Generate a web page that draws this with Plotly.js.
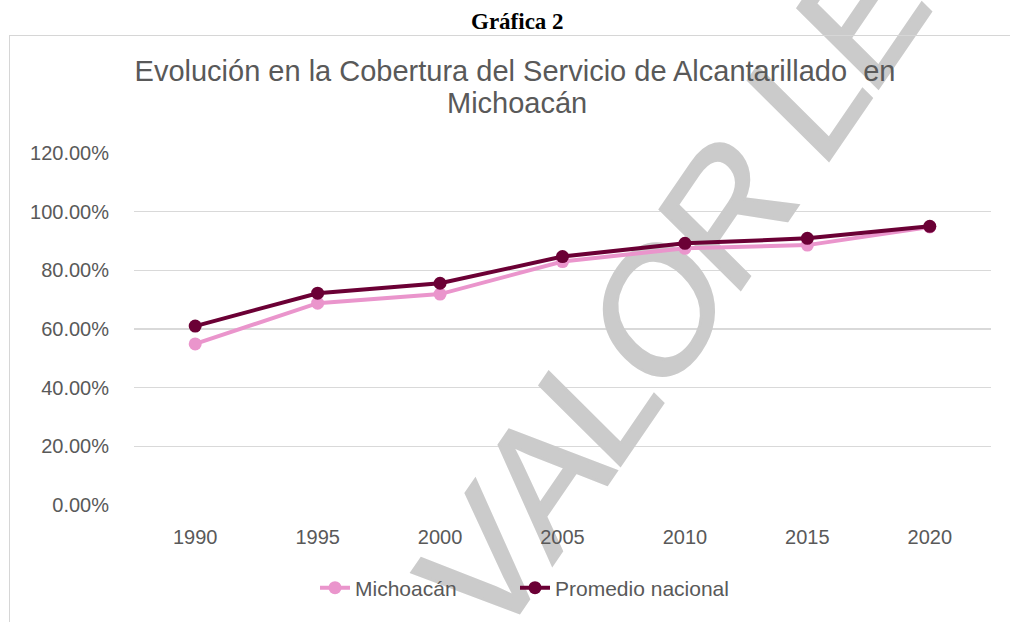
<!DOCTYPE html>
<html><head><meta charset="utf-8">
<script src="https://cdn.plot.ly/plotly-3.0.1.min.js"></script>
<style>
html,body{margin:0;padding:0;background:#fff;}
#wrap{position:relative;width:1010px;height:622px;overflow:hidden;background:#fff;}
#frame{position:absolute;left:9px;top:35px;width:1100px;height:700px;border-left:1.5px solid #d6d6d6;border-top:1.5px solid #d6d6d6;}
#grid,#chart,#wm{position:absolute;left:0;top:0;width:1010px;height:622px;}
</style></head><body>
<div id="wrap">
<div id="grid"></div>
<svg id="wm" width="1010" height="622"><g transform="translate(492,653) scale(0.83,1) rotate(-50.5)"><text x="0" y="0" font-family="Liberation Sans, Arial, sans-serif" font-size="183" letter-spacing="-8" style="font-kerning:none" fill="#cbcbcb" stroke="#cbcbcb" stroke-width="3">VALOR LEGAL</text></g></svg>
<div id="frame"></div>
<div id="chart"></div>
</div>
<script>
const years = ['1990','1995','2000','2005','2010','2015','2020'];
const michoacan = [0.549, 0.688, 0.719, 0.830, 0.875, 0.886, 0.948];
const promedio  = [0.610, 0.722, 0.756, 0.847, 0.892, 0.909, 0.950];
const seriesNames = ['Michoacán', 'Promedio nacional'];
const titleLine1 = 'Evolución en la Cobertura del Servicio de Alcantarillado  en';
const titleLine2 = 'Michoacán';
const header = 'Gráfica 2';

const FONT = 'Liberation Sans, Arial, sans-serif';
const GREY = '#595959';
const margin = {l:134, r:19, t:153, b:117, pad:0};

// background layer: gridlines only
Plotly.newPlot('grid', [], {
  width:1010, height:622, margin: margin,
  paper_bgcolor:'rgba(0,0,0,0)', plot_bgcolor:'rgba(0,0,0,0)',
  showlegend:false,
  xaxis:{type:'category', categoryarray: years, range:[-0.5, 6.5], visible:false},
  yaxis:{range:[-0.0005, 1.2005], tick0:0, dtick:0.2, showgrid:true, gridcolor:'#d9d9d9', gridwidth:1.3,
         zeroline:false, showline:false, ticks:'', showticklabels:false}
}, {staticPlot:true, displayModeBar:false});

// foreground layer: data, axes labels, titles, legends
const traces = [
  {x: years, y: michoacan, name: seriesNames[0], type:'scatter', mode:'lines+markers', legend:'legend',
   line:{color:'#EA95CC', width:4}, marker:{color:'#EA95CC', size:13}},
  {x: years, y: promedio, name: seriesNames[1], type:'scatter', mode:'lines+markers', legend:'legend2',
   line:{color:'#6B0035', width:4}, marker:{color:'#6B0035', size:13}}
];

const legendBase = {orientation:'h', xref:'container', xanchor:'left', yref:'container', y:1-588/622,
  yanchor:'middle', font:{size:21, color:GREY}, bgcolor:'rgba(0,0,0,0)', itemwidth:30};

Plotly.newPlot('chart', traces, {
  width:1010, height:622, margin: margin,
  paper_bgcolor:'rgba(0,0,0,0)', plot_bgcolor:'rgba(0,0,0,0)',
  font:{family:FONT, color:GREY},
  showlegend:true,
  title:{text:titleLine1, font:{family:FONT, size:29, color:GREY},
         xref:'container', x:515/1010, xanchor:'center', yref:'container', y:1-71/622, yanchor:'middle'},
  xaxis:{type:'category', categoryarray: years, range:[-0.5, 6.5], showgrid:false, zeroline:false,
         showline:false, ticks:'', tickfont:{size:20, color:GREY}, ticklabelstandoff:18},
  yaxis:{range:[0, 1.2], tick0:0, dtick:0.2, tickformat:'.2%', showgrid:false, zeroline:false,
         showline:false, ticks:'', tickfont:{size:20, color:GREY}, ticklabelstandoff:24},
  legend: Object.assign({}, legendBase, {x:315/1010}),
  legend2: Object.assign({}, legendBase, {x:515/1010}),
  annotations:[
    {text:titleLine2, xref:'paper', yref:'paper', x:(517-134)/857, y:(505-103)/352, xanchor:'center', yanchor:'middle',
     showarrow:false, font:{family:FONT, size:29, color:GREY}},
    {text:'<b>'+header+'</b>', xref:'paper', yref:'paper', x:(517-134)/857, y:(505-21)/352, xanchor:'center', yanchor:'middle',
     showarrow:false, font:{family:'Liberation Serif, Times New Roman, serif', size:23, color:'#000'}}
  ]
}, {staticPlot:true, displayModeBar:false});
</script>
</body></html>
